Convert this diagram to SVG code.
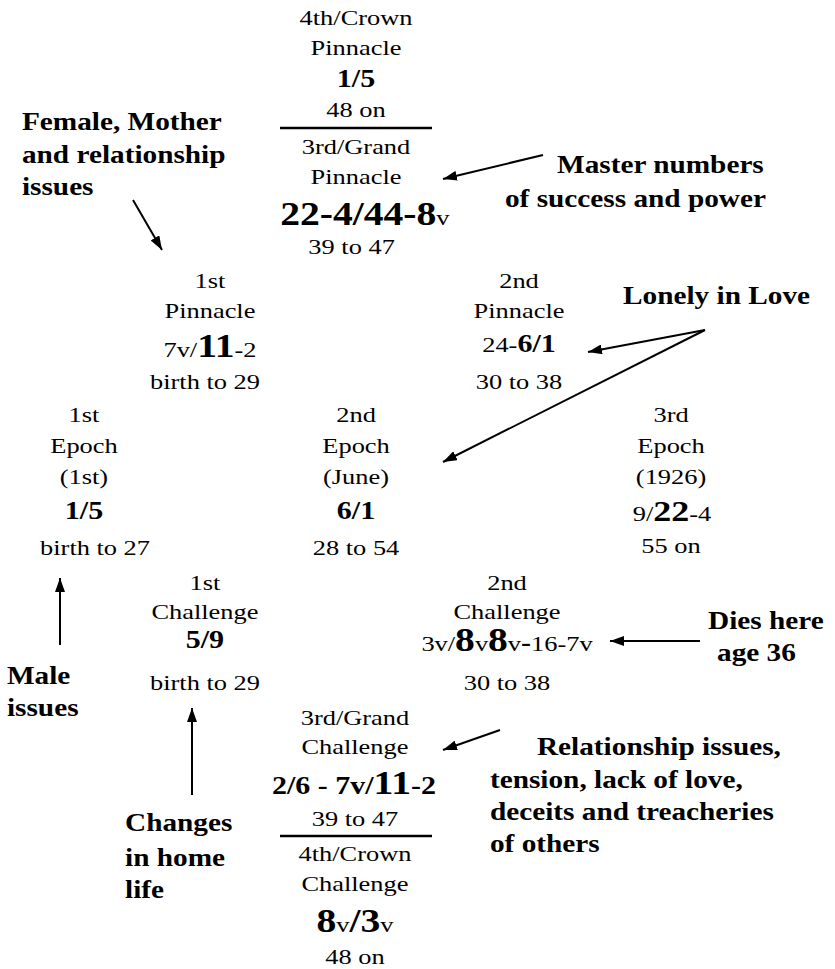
<svg xmlns="http://www.w3.org/2000/svg" width="835" height="969" viewBox="0 0 835 969">
<defs>
<style>
text{font-family:"Liberation Serif","Times New Roman",serif;fill:#000}
.c{text-anchor:middle}
.r{font-size:22px}
.b{font-size:25px;font-weight:bold}
.B{font-size:33px;font-weight:bold}
.lab{font-size:24.4px;font-weight:bold}
.sep{stroke:#000;stroke-width:2.5}
.arr{stroke:#000;stroke-width:2;fill:none;marker-end:url(#ah)}
</style>
<marker id="ah" viewBox="0 0 14 10" refX="14" refY="5" markerWidth="14" markerHeight="10" markerUnits="userSpaceOnUse" orient="auto">
<path d="M0,0 L14,5 L0,10 z" fill="#000"/>
</marker>
</defs>
<rect width="835" height="969" fill="#fff"/>

<g id="crown-pinnacle" transform="scale(1.2,1)">
<text class="r c" x="296.7" y="25">4th/Crown</text>
<text class="r c" x="296.7" y="55">Pinnacle</text>
<text class="b c" x="296.7" y="87">1/5</text>
<text class="r c" x="296.7" y="117">48 on</text>
</g>
<g id="sep-top"><line class="sep" x1="280" y1="128" x2="432" y2="128"/></g>
<g id="grand-pinnacle" transform="scale(1.2,1)">
<text class="r c" x="296.7" y="154">3rd/Grand</text>
<text class="r c" x="296.7" y="184">Pinnacle</text>
<text class="c" x="304" y="225"><tspan class="B">22-4/44-8</tspan><tspan class="r">v</tspan></text>
<text class="r c" x="293" y="254">39 to 47</text>
</g>

<g id="pinnacle-1" transform="scale(1.2,1)">
<text class="r c" x="175" y="288">1st</text>
<text class="r c" x="175" y="318">Pinnacle</text>
<text class="c" x="175" y="357"><tspan class="r">7v/</tspan><tspan class="B">11</tspan><tspan class="r">-2</tspan></text>
<text class="r c" x="170.8" y="389">birth to 29</text>
</g>
<g id="pinnacle-2" transform="scale(1.2,1)">
<text class="r c" x="432.5" y="288">2nd</text>
<text class="r c" x="432.5" y="318">Pinnacle</text>
<text class="c" x="432.5" y="352"><tspan class="r">24-</tspan><tspan class="b">6/1</tspan></text>
<text class="r c" x="432.5" y="389">30 to 38</text>
</g>

<g id="epoch-1" transform="scale(1.2,1)">
<text class="r c" x="70" y="422">1st</text>
<text class="r c" x="70" y="453">Epoch</text>
<text class="r c" x="70" y="484">(1st)</text>
<text class="b c" x="70" y="519">1/5</text>
<text class="r c" x="79.2" y="555">birth to 27</text>
</g>
<g id="epoch-2" transform="scale(1.2,1)">
<text class="r c" x="296.7" y="422">2nd</text>
<text class="r c" x="296.7" y="453">Epoch</text>
<text class="r c" x="296.7" y="484">(June)</text>
<text class="b c" x="296.7" y="519">6/1</text>
<text class="r c" x="296.7" y="555">28 to 54</text>
</g>
<g id="epoch-3" transform="scale(1.2,1)">
<text class="r c" x="559.2" y="422">3rd</text>
<text class="r c" x="559.2" y="453">Epoch</text>
<text class="r c" x="559.2" y="484">(1926)</text>
<text class="c" x="560" y="521"><tspan class="r">9/</tspan><tspan class="B" style="font-size:30px">22</tspan><tspan class="r">-4</tspan></text>
<text class="r c" x="559.2" y="553">55 on</text>
</g>

<g id="challenge-1" transform="scale(1.2,1)">
<text class="r c" x="170.8" y="590">1st</text>
<text class="r c" x="170.8" y="619">Challenge</text>
<text class="b c" x="170.8" y="648">5/9</text>
<text class="r c" x="170.8" y="690">birth to 29</text>
</g>
<g id="challenge-2" transform="scale(1.2,1)">
<text class="r c" x="422.5" y="590">2nd</text>
<text class="r c" x="422.5" y="619">Challenge</text>
<text class="c" x="422.5" y="651"><tspan class="r">3v/</tspan><tspan class="B">8</tspan><tspan class="r">v</tspan><tspan class="B">8</tspan><tspan class="r">v</tspan><tspan class="b">-</tspan><tspan class="r">16-7v</tspan></text>
<text class="r c" x="422.5" y="690">30 to 38</text>
</g>

<g id="grand-challenge" transform="scale(1.2,1)">
<text class="r c" x="295.8" y="725">3rd/Grand</text>
<text class="r c" x="295.8" y="754">Challenge</text>
<text class="c" x="295" y="794"><tspan class="b">2/6 - 7v/</tspan><tspan class="B">11</tspan><tspan class="b">-2</tspan></text>
<text class="r c" x="295.8" y="826">39 to 47</text>
</g>
<g id="sep-bottom"><line class="sep" x1="280" y1="836" x2="432" y2="836"/></g>
<g id="crown-challenge" transform="scale(1.2,1)">
<text class="r c" x="295.8" y="861">4th/Crown</text>
<text class="r c" x="295.8" y="891">Challenge</text>
<text class="c" x="295.8" y="932"><tspan class="B">8</tspan><tspan class="r">v</tspan><tspan class="B">/3</tspan><tspan class="r">v</tspan></text>
<text class="r c" x="295.8" y="964">48 on</text>
</g>

<g id="label-female" transform="scale(1.2,1)">
<text class="lab" x="18.3" y="130">Female, Mother</text>
<text class="lab" x="18.3" y="163">and relationship</text>
<text class="lab" x="18.3" y="195">issues</text>
</g>
<g id="label-master" transform="scale(1.2,1)">
<text class="lab" x="464.2" y="173">Master numbers</text>
<text class="lab" x="420.8" y="207">of success and power</text>
</g>
<g id="label-lonely" transform="scale(1.2,1)">
<text class="lab" x="519.2" y="304">Lonely in Love</text>
</g>
<g id="label-male" transform="scale(1.2,1)">
<text class="lab" x="5.8" y="684">Male</text>
<text class="lab" x="5.8" y="716">issues</text>
</g>
<g id="label-dies" transform="scale(1.2,1)">
<text class="lab" x="590" y="629">Dies here</text>
<text class="lab" x="597.5" y="661">age 36</text>
</g>
<g id="label-relationship" transform="scale(1.2,1)">
<text class="lab" x="447.5" y="755">Relationship issues,</text>
<text class="lab" x="408.3" y="788">tension, lack of love,</text>
<text class="lab" x="408.3" y="820">deceits and treacheries</text>
<text class="lab" x="408.3" y="852">of others</text>
</g>
<g id="label-changes" transform="scale(1.2,1)">
<text class="lab" x="104.2" y="831">Changes</text>
<text class="lab" x="104.2" y="866">in home</text>
<text class="lab" x="104.2" y="898">life</text>
</g>

<g id="connectors">
<line class="arr" x1="133" y1="200" x2="162" y2="250"/>
<line class="arr" x1="543" y1="155" x2="443" y2="179"/>
<line class="arr" x1="705" y1="330" x2="588" y2="352"/>
<line class="arr" x1="705" y1="330" x2="443" y2="462"/>
<line class="arr" x1="60" y1="645" x2="60" y2="578"/>
<line class="arr" x1="192" y1="795" x2="192" y2="708"/>
<line class="arr" x1="700" y1="641" x2="610" y2="641"/>
<line class="arr" x1="500" y1="730" x2="443" y2="750"/>
</g>
</svg>
